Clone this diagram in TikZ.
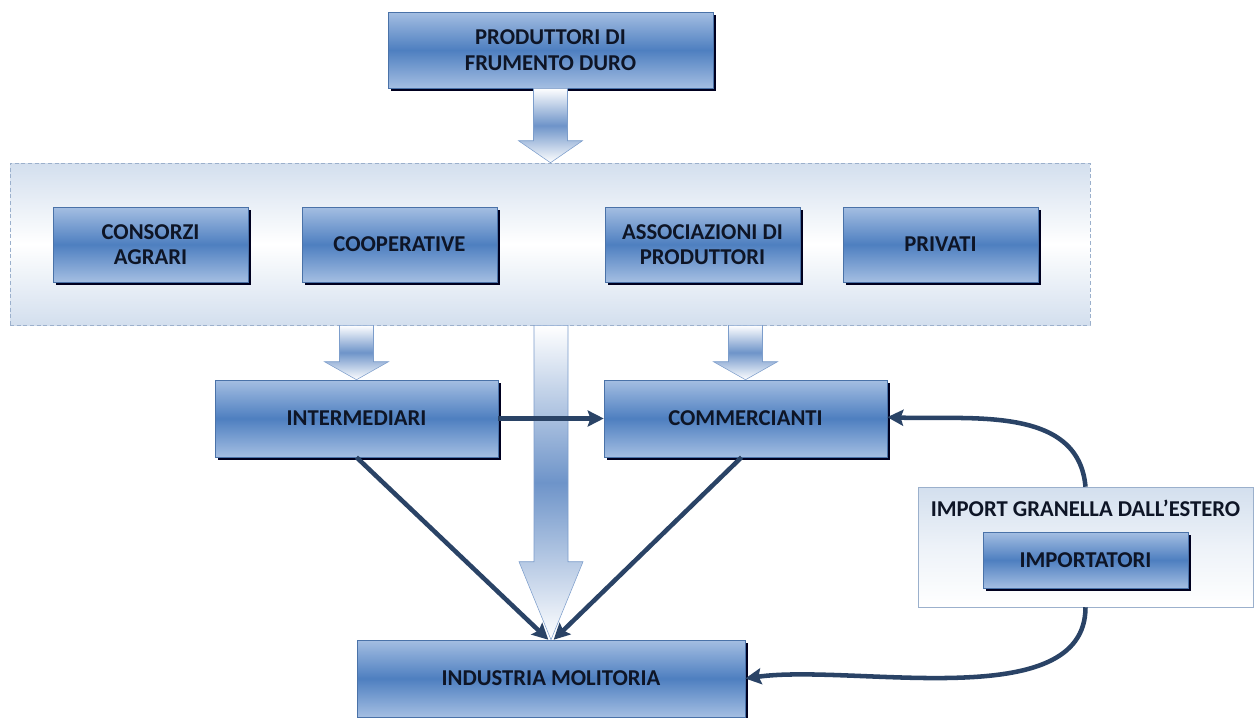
\documentclass[tikz,border=0pt]{standalone}
\usepackage{fontspec}
\setmainfont{Carlito}
\usetikzlibrary{calc,shadows,arrows.meta}
\definecolor{boxlight}{HTML}{A4BEE2}
\definecolor{boxmid}{HTML}{4E7FC0}
\definecolor{boxline}{HTML}{4A72A8}
\definecolor{boxtext}{HTML}{0E1526}
\definecolor{panellight}{HTML}{D3DFEE}
\definecolor{panelline}{HTML}{9BB0CC}
\definecolor{flowcol}{HTML}{2A4366}
\definecolor{fatmid}{HTML}{6E94C9}
\definecolor{fatline}{HTML}{7C9DCB}
\tikzstyle{bluebox} = [draw=boxline, thin, rectangle, top color=boxlight, bottom color=boxlight,
    middle color=boxmid, align=center, text=boxtext, inner sep=2pt,
    font=\fontsize{17}{19}\selectfont\bfseries,
    drop shadow={shadow xshift=2.5pt, shadow yshift=-2.5pt, fill=black!80!blue!60!black, opacity=1}]
\tikzstyle{panel} = [draw=panelline, densely dashed, thin, rectangle, top color=panellight,
    bottom color=panellight, middle color=white]
\tikzstyle{fatarrow} = [draw=fatline, thin, top color=white, bottom color=white, middle color=fatmid]
\tikzstyle{flow} = [draw=flowcol, line width=3.4pt, -{Stealth[length=12pt,width=12pt,inset=2pt]}]
% block arrow: [head length] tail, tip
\newcommand{\fatarrow}[3][22]{%
    \path[fatarrow] ($(#2)+(-17,0)$) -- ($(#3)+(-17,-#1)$) -- ($(#3)+(-32,-#1)$) -- (#3)
        -- ($(#3)+(32,-#1)$) -- ($(#3)+(17,-#1)$) -- ($(#2)+(17,0)$) -- cycle;}

\begin{document}
\begin{tikzpicture}[x=0.75pt, y=-0.75pt]
    \useasboundingbox (0,0) rectangle (1258,718);

    % upper part
    \node[bluebox, minimum width=325*0.75pt, minimum height=76*0.75pt] (prod) at (550.5,50)
        {PRODUTTORI DI\\FRUMENTO DURO};
    \node[panel, minimum width=1080*0.75pt, minimum height=162*0.75pt] (panel) at (550,244) {};
    \node[bluebox, minimum width=195*0.75pt, minimum height=75*0.75pt] (cons) at (150.5,244.5)
        {CONSORZI\\AGRARI};
    \node[bluebox, minimum width=195*0.75pt, minimum height=75*0.75pt] (coop) at (399.5,244.5)
        {COOPERATIVE};
    \node[bluebox, minimum width=195*0.75pt, minimum height=75*0.75pt] (assoc) at (702.5,244.5)
        {ASSOCIAZIONI DI\\PRODUTTORI};
    \node[bluebox, minimum width=195*0.75pt, minimum height=75*0.75pt] (priv) at (940.5,244.5)
        {PRIVATI};

    % middle and lower part
    \node[bluebox, minimum width=283*0.75pt, minimum height=77*0.75pt] (inter) at (356.5,418.5)
        {INTERMEDIARI};
    \node[bluebox, minimum width=283*0.75pt, minimum height=77*0.75pt] (comm) at (745.5,418.5)
        {COMMERCIANTI};
    \node[panel, solid, minimum width=335*0.75pt, minimum height=120*0.75pt,
        top color=panellight, bottom color=white, middle color=white!60!panellight] (imp) at (1085.5,547) {};
    \node[text=boxtext, font=\fontsize{17}{19}\selectfont\bfseries] (imptitle) at (1085.5,508)
        {IMPORT GRANELLA DALL’ESTERO};
    \node[bluebox, minimum width=205*0.75pt, minimum height=56*0.75pt] (impo) at (1085.5,560)
        {IMPORTATORI};
    \node[bluebox, minimum width=388*0.75pt, minimum height=77*0.75pt] (ind) at (551,678.5)
        {INDUSTRIA MOLITORIA};

    % block arrows
    \fatarrow{prod.south}{panel.north -| prod.south}
    \fatarrow[18]{panel.south -| inter.north}{inter.north}
    \fatarrow[18]{panel.south -| comm.north}{comm.north}
    \fatarrow[78]{panel.south -| ind.north}{ind.north}

    % flows
    \draw[flow] (inter.east) -- (comm.west);
    \draw[flow] (inter.south) -- ([xshift=-2pt]ind.north);
    \draw[flow] ([xshift=-3pt]comm.south) -- ([xshift=2pt]ind.north);
    \draw[flow] (imp.north) to[out=95, in=-2] ([yshift=1pt]comm.east);
    \draw[flow] (imp.south) to[out=-90, in=8, looseness=0.8] (ind.east);
\end{tikzpicture}
\end{document}
